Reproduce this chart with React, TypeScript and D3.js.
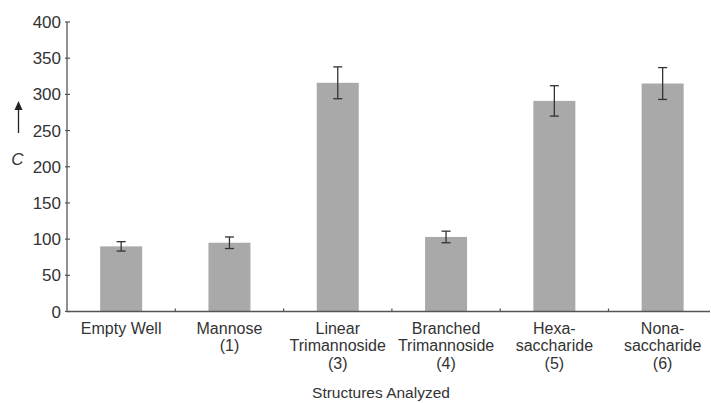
import React from "react";
import * as d3 from "d3";

const categories: string[][] = [
  ["Empty Well"],
  ["Mannose", "(1)"],
  ["Linear", "Trimannoside", "(3)"],
  ["Branched", "Trimannoside", "(4)"],
  ["Hexa-", "saccharide", "(5)"],
  ["Nona-", "saccharide", "(6)"],
];
const values: number[] = [90, 95, 316, 103, 291, 315];
const errors: number[] = [6.5, 8, 22, 8, 21, 22];
const yTicks: number[] = [0, 50, 100, 150, 200, 250, 300, 350, 400];
const xTitle = "Structures Analyzed";
const yTitle = "C";

const W = 711;
const H = 403;
const FONT = "'Liberation Sans', Arial, Helvetica, sans-serif";

export default function App() {
  const x0 = 67;
  const yBase = 311.5;
  const x = d3
    .scaleBand<number>()
    .domain(d3.range(categories.length))
    .range([x0, x0 + 6 * 108.3])
    .paddingInner(0)
    .paddingOuter(0);
  const y = d3.scaleLinear().domain([0, 400]).range([yBase, 22]);
  const barW = 42;
  const axisColor = "#555";
  const barColor = "#a9a9a9";
  const capW = 9;

  return (
    <svg
      width={W}
      height={H}
      style={{ position: "absolute", left: 0, top: 0, background: "#fff" }}
      fontFamily={FONT}
    >
      {/* bars */}
      {values.map((v, i) => {
        const cx = (x(i) as number) + x.bandwidth() / 2;
        return (
          <rect
            key={"b" + i}
            x={cx - barW / 2}
            y={y(v)}
            width={barW}
            height={yBase - y(v)}
            fill={barColor}
          />
        );
      })}
      {/* error bars */}
      {values.map((v, i) => {
        const cx = (x(i) as number) + x.bandwidth() / 2;
        const hi = y(v + errors[i]);
        const lo = y(v - errors[i]);
        return (
          <g key={"e" + i} stroke="#333" strokeWidth={1.3}>
            <line x1={cx} x2={cx} y1={hi} y2={lo} />
            <line x1={cx - capW / 2} x2={cx + capW / 2} y1={hi} y2={hi} />
            <line x1={cx - capW / 2} x2={cx + capW / 2} y1={lo} y2={lo} />
          </g>
        );
      })}
      {/* y axis */}
      <line x1={x0} x2={x0} y1={y(400)} y2={yBase} stroke={axisColor} strokeWidth={1.3} />
      {yTicks.map((t) => (
        <g key={"yt" + t}>
          <line x1={x0 - 2} x2={x0 + 3} y1={y(t)} y2={y(t)} stroke={axisColor} strokeWidth={1.2} />
          <text
            x={x0 - 6}
            y={y(t)}
            dy="0.36em"
            textAnchor="end"
            fontSize={17}
            fill="#333"
          >
            {t}
          </text>
        </g>
      ))}
      {/* x axis */}
      <line x1={x0} x2={710} y1={yBase} y2={yBase} stroke={axisColor} strokeWidth={1.3} />
      {categories.map((_, i) =>
        i === 0 ? null : (
          <line
            key={"xt" + i}
            x1={x(i) as number}
            x2={x(i) as number}
            y1={yBase}
            y2={yBase - 3}
            stroke={axisColor}
            strokeWidth={1.2}
          />
        )
      )}
      {/* category labels */}
      {categories.map((lines, i) => {
        const cx = (x(i) as number) + x.bandwidth() / 2;
        return (
          <text key={"cl" + i} textAnchor="middle" fontSize={16} fill="#333">
            {lines.map((l, j) => (
              <tspan key={j} x={cx} y={333.5 + j * 17.5}>
                {l}
              </tspan>
            ))}
          </text>
        );
      })}
      {/* x title */}
      <text x={381} y={398} textAnchor="middle" fontSize={15.5} fill="#333">
        {xTitle}
      </text>
      {/* y title with arrow */}
      <line x1={18.5} x2={18.5} y1={108} y2={133} stroke="#222" strokeWidth={1.3} />
      <path d="M14.5,110 L18.5,101 L22.5,110 Z" fill="#222" />
      <text x={17.5} y={165} textAnchor="middle" fontSize={17} fontStyle="italic" fill="#333">
        {yTitle}
      </text>
    </svg>
  );
}
